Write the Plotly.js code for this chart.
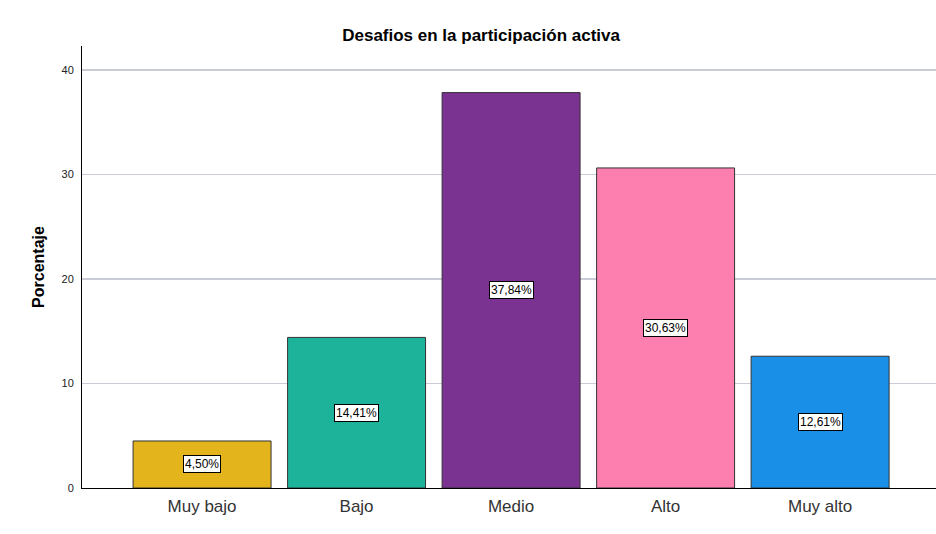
<!DOCTYPE html>
<html><head><meta charset="utf-8">
<script src="https://cdn.plot.ly/plotly-3.0.1.min.js"></script>
<style>html,body{margin:0;padding:0;background:#fff}#chart{width:936px;height:534px}</style>
</head><body><div id="chart"></div>
<script>
const categories = ["Muy bajo", "Bajo", "Medio", "Alto", "Muy alto"];
const percentages = [4.50, 14.41, 37.84, 30.63, 12.61];
const labels = ["4,50%", "14,41%", "37,84%", "30,63%", "12,61%"];
const colors = ["#e3b41c", "#1db39b", "#7a3391", "#fc7fb0", "#1a8fe8"];
const yTicks = [0, 10, 20, 30, 40];

const trace = {
  type: "bar",
  x: categories,
  y: percentages,
  width: 0.893,
  marker: {color: colors, line: {color: "#333333", width: 1}},
  hoverinfo: "none"
};

const annotations = categories.map((c, i) => ({
  x: c, y: percentages[i] / 2, xref: "x", yref: "y",
  text: labels[i], showarrow: false,
  font: {family: "Liberation Sans, Arial, sans-serif", size: 12, color: "#000"},
  bgcolor: "#ffffff", bordercolor: "#000000", borderwidth: 1, borderpad: 1
}));

const layout = {
  width: 936, height: 534,
  margin: {l: 82, r: 0, t: 46, b: 46},
  paper_bgcolor: "#ffffff", plot_bgcolor: "#ffffff",
  title: {text: "<b>Desafios en la participación activa</b>", x: 0.514, xanchor: "center", y: 0.934, yanchor: "middle",
          font: {family: "Liberation Sans, Arial, sans-serif", size: 17, color: "#000"}},
  xaxis: {
    type: "category", range: [-0.777, 4.75],
    showline: true, linecolor: "#000", linewidth: 1,
    ticks: "outside", ticklen: 3, tickcolor: "rgba(0,0,0,0)", showgrid: false, zeroline: false,
    tickfont: {family: "Liberation Sans, Arial, sans-serif", size: 17, color: "#333"}
  },
  yaxis: {
    range: [0, 42.3], tickvals: yTicks, ticktext: yTicks.map(String),
    showline: true, linecolor: "#000", linewidth: 1,
    ticks: "outside", ticklen: 5, tickcolor: "rgba(0,0,0,0)", showgrid: true, gridcolor: "#c9cbd6", gridwidth: 1.5, zeroline: false,
    tickfont: {family: "Liberation Sans, Arial, sans-serif", size: 11, color: "#222"},
    title: {text: "<b>Porcentaje</b>", standoff: 12,
            font: {family: "Liberation Sans, Arial, sans-serif", size: 16, color: "#000"}}
  },
  annotations: annotations,
  showlegend: false
};

Plotly.newPlot("chart", [trace], layout, {displayModeBar: false, staticPlot: true});
</script></body></html>
